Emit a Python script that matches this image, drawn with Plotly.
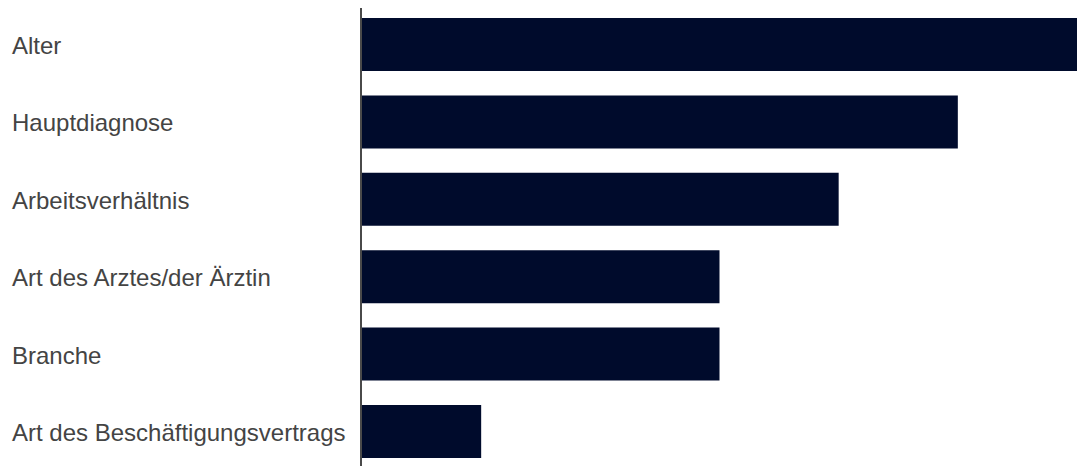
import plotly.graph_objects as go

categories = [
    "Alter",
    "Hauptdiagnose",
    "Arbeitsverhältnis",
    "Art des Arztes/der Ärztin",
    "Branche",
    "Art des Beschäftigungsvertrags",
]
values = [6, 5, 4, 3, 3, 1]

W, H = 1077, 466
LEFT = 362
TOP = 8
LABEL_X = 10  # pixel position of label left edge

bar_color = "#000b2c"
text_color = "#444444"

fig = go.Figure(
    go.Bar(
        x=values,
        y=list(range(len(categories))),
        orientation="h",
        marker=dict(color=bar_color, line=dict(width=0)),
        hoverinfo="skip",
    )
)

# category labels, left-aligned in the margin
plot_w = W - LEFT
for i, cat in enumerate(categories):
    fig.add_annotation(
        x=(LABEL_X - LEFT) / plot_w,
        xref="paper",
        y=i,
        yref="y",
        yshift=-1,
        text=cat,
        showarrow=False,
        xanchor="left",
        yanchor="middle",
        font=dict(family="Liberation Sans, Arial, sans-serif", size=24, color=text_color),
    )

fig.update_layout(
    width=W,
    height=H,
    margin=dict(l=LEFT, r=0, t=TOP, b=0),
    paper_bgcolor="white",
    plot_bgcolor="white",
    showlegend=False,
    bargap=0.315,
    xaxis=dict(
        range=[0, 6],
        showgrid=False,
        zeroline=False,
        showticklabels=False,
        showline=False,
        fixedrange=True,
    ),
    yaxis=dict(
        range=[5.446, -0.472],
        showgrid=False,
        zeroline=False,
        showticklabels=False,
        showline=True,
        linecolor="#4a4a4a",
        linewidth=1.5,
        fixedrange=True,
    ),
)

fig.write_html("out.html", config={"displayModeBar": False})
